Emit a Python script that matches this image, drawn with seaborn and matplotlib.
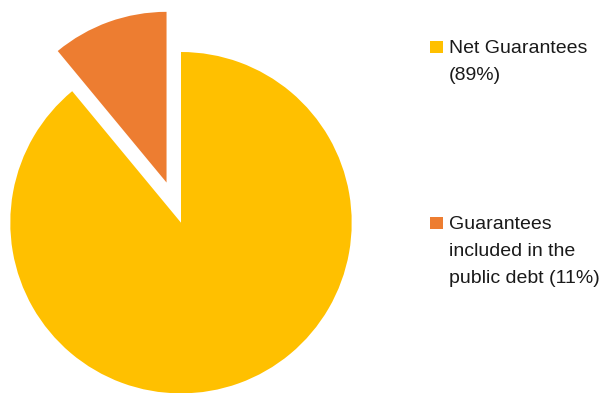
import matplotlib
matplotlib.use("Agg")
import matplotlib.pyplot as plt
from matplotlib.patches import Rectangle
import seaborn as sns

# Guarantee breakdown (shares in %)
categories = ["Net Guarantees", "Guarantees included in the public debt"]
legend_labels = ["Net Guarantees\n(89%)", "Guarantees\nincluded in the\npublic debt (11%)"]
shares = [89, 11]
explode = [0.0, 0.25]  # fraction of the radius

sns.set_theme(style="white")
plt.rcParams["font.family"] = ["Liberation Sans", "DejaVu Sans"]
colors = sns.color_palette(["#FFC000", "#ED7D31"])

W, H = 602, 393
fig = plt.figure(figsize=(W / 100, H / 100), dpi=100)
ax = fig.add_axes([0, 0, 1, 1])

# Pie laid out in pixel-sized data units (pie's explode is in data units)
radius = 170.7
ax.pie(shares, colors=colors, startangle=90, counterclock=False,
       explode=[e * radius for e in explode], center=(181, H - 222.7),
       radius=radius, wedgeprops=dict(linewidth=0))
ax.set_xlim(0, W)
ax.set_ylim(0, H)
ax.set_aspect("equal")
ax.axis("off")

# Legend entries on the right
entry_tops = [H - 40.7, H - 216.5]
for label, color, top in zip(legend_labels, colors, entry_tops):
    ax.add_patch(Rectangle((430, top - 12), 12.5, 12, facecolor=color,
                           edgecolor="none", clip_on=False))
    ax.text(449, top + 0.5, label, fontsize=14, color="#1a1a1a",
            va="top", ha="left", linespacing=1.78)

fig.savefig("out.png", dpi=100)
